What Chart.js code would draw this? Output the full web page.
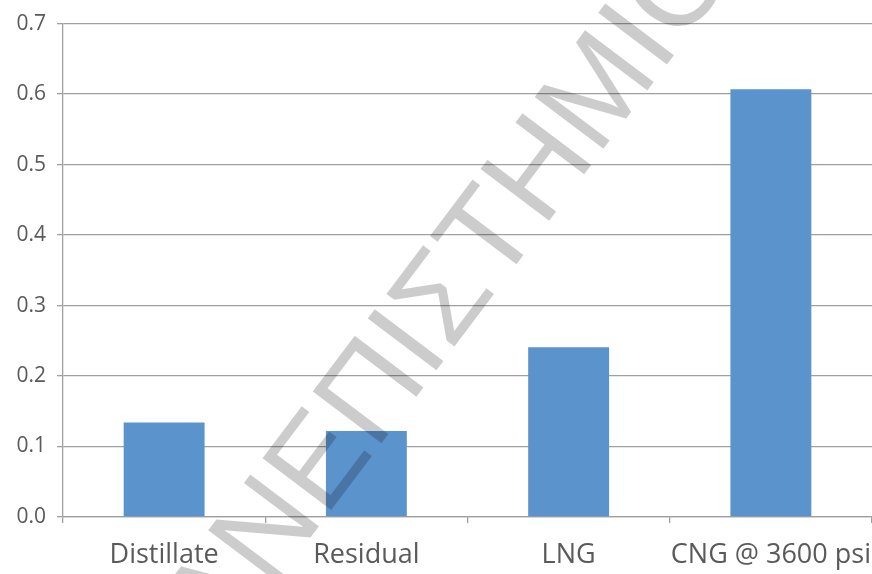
<!DOCTYPE html>
<html>
<head>
<meta charset="utf-8">
<script src="https://cdn.jsdelivr.net/npm/chart.js@4/dist/chart.umd.min.js"></script>
<style>
  html, body { margin: 0; padding: 0; background: #ffffff; }
  #wrap { width: 872px; height: 574px; position: relative; }
</style>
</head>
<body>
<div id="wrap"><canvas id="c"></canvas></div>
<script>
const categories = ["Distillate", "Residual", "LNG", "CNG @ 3600 psi"];
const values = [0.134, 0.122, 0.241, 0.607];
const yTickValues = [0.0, 0.1, 0.2, 0.3, 0.4, 0.5, 0.6, 0.7];
const watermarkText = "ΠΑΝΕΠΙΣΤΗΜΙΟ";

const watermark = {
  id: 'watermark',
  afterDatasetsDraw(chart) {
    const ctx = chart.ctx;
    ctx.save();
    const fs = 125;
    ctx.font = fs + 'px "Liberation Sans", Arial, sans-serif';
    ctx.fillStyle = 'rgba(0,0,0,0.2)';
    ctx.textBaseline = 'alphabetic';
    const th = 53 * Math.PI / 180;
    const pre = watermarkText.slice(0, watermarkText.indexOf('Τ'));
    const w = ctx.measureText(pre).width;
    const ox = 497 - w * Math.cos(th);
    const oy = 290 + w * Math.sin(th);
    ctx.translate(ox, oy);
    ctx.rotate(-th);
    ctx.fillText(watermarkText, 0, 0);
    ctx.restore();
  }
};

new Chart(document.getElementById('c'), {
  type: 'bar',
  data: {
    labels: categories,
    datasets: [{
      data: values,
      backgroundColor: '#5b93cc',
      borderWidth: 0,
      barPercentage: 0.4,
      categoryPercentage: 1.0
    }]
  },
  options: {
    responsive: true,
    maintainAspectRatio: false,
    animation: false,
    layout: { padding: { top: 20, right: 0, left: 0, bottom: 0 } },
    plugins: { legend: { display: false }, tooltip: { enabled: false } },
    scales: {
      x: {
        offset: true,
        grid: { offset: true, drawOnChartArea: false, drawTicks: true, tickLength: 6, color: '#a0a0a0', lineWidth: 1.3 },
        border: { display: true, color: '#a0a0a0', width: 1.3 },
        ticks: { color: '#5a5a5a', font: { family: '"Open Sans", sans-serif', size: 27 }, padding: 16, maxRotation: 0, autoSkip: false },
        afterFit(s) { s.height = 57; s.paddingRight = 0; s.paddingLeft = 0; }
      },
      y: {
        min: 0, max: 0.7,
        afterBuildTicks(s) { s.ticks = yTickValues.map(v => ({ value: v })); },
        grid: { color: '#a0a0a0', lineWidth: 1.3, tickLength: 6, drawTicks: true },
        border: { display: true, color: '#a0a0a0', width: 1.3 },
        ticks: { color: '#5a5a5a', font: { family: '"Open Sans", sans-serif', size: 21 }, padding: 11,
          callback: v => Number(v).toFixed(1) },
        afterFit(s) { s.width = 63; }
      }
    }
  },
  plugins: [watermark]
});
</script>
</body>
</html>
